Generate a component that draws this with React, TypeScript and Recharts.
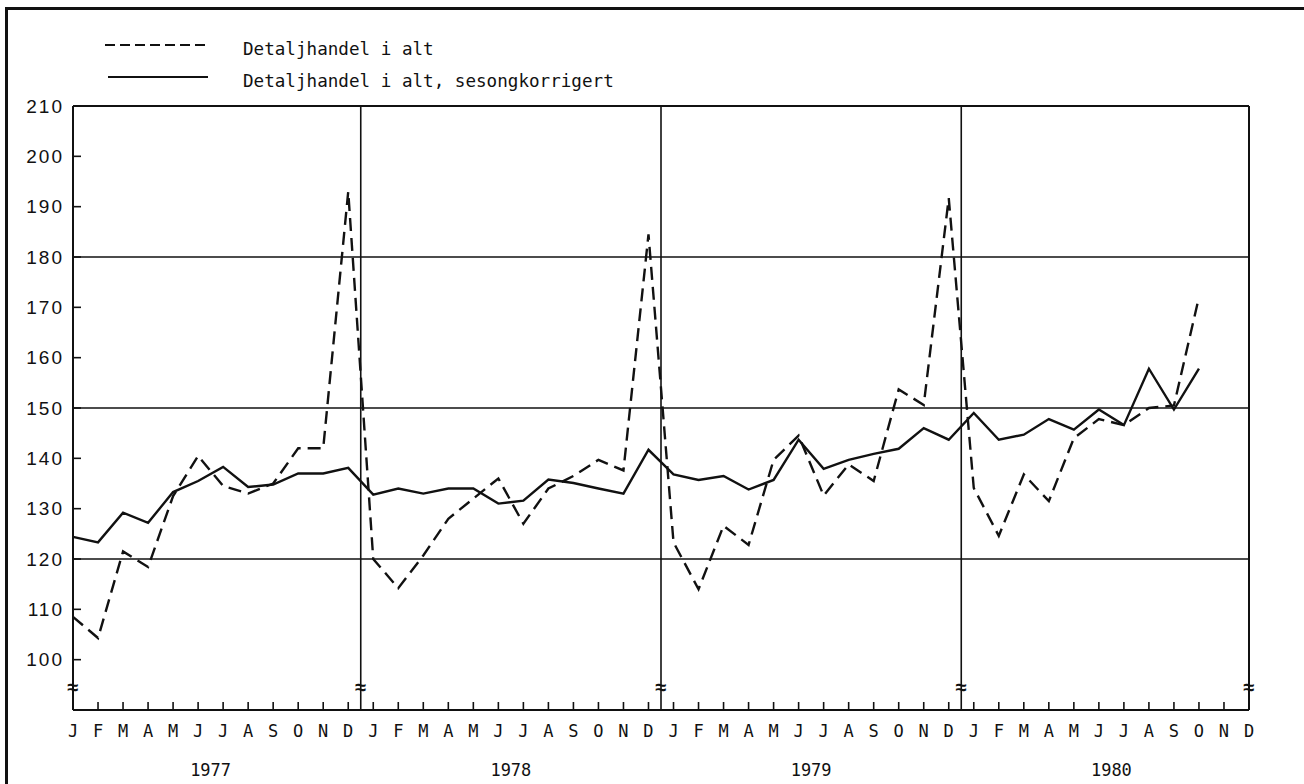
import React from "react";
import { LineChart, Line, XAxis, YAxis, ReferenceLine, ReferenceDot } from "recharts";

const MONTHS = ["J", "F", "M", "A", "M", "J", "J", "A", "S", "O", "N", "D"];
const YEARS = ["1977", "1978", "1979", "1980"];
const Y_TICKS = [100, 110, 120, 130, 140, 150, 160, 170, 180, 190, 200, 210];

// Detaljhandel i alt (dashed)
const TOTAL_1977 = [108.5, 104.3, 121.5, 118.4, 132.5, 140.5, 134.5, 133, 135, 142, 142, 193];
const TOTAL_1978 = [120, 114.2, 120.7, 128, 132, 136, 127, 134, 136.5, 139.7, 137.6, 184.5];
const TOTAL_1979 = [123.3, 114, 126.6, 122.8, 139.7, 144.5, 132.6, 138.8, 135.5, 153.7, 150.6, 191.7];
const TOTAL_1980 = [134.1, 124.6, 136.8, 131.5, 144, 147.8, 146.6, 150, 150.5, 172, null, null];

// Detaljhandel i alt, sesongkorrigert (solid)
const SA_1977 = [124.4, 123.3, 129.2, 127.2, 133.3, 135.5, 138.3, 134.3, 134.8, 137, 137, 138.1];
const SA_1978 = [132.8, 134, 133, 134, 134, 131, 131.6, 135.8, 135.1, 134, 133, 141.7];
const SA_1979 = [136.8, 135.7, 136.5, 133.8, 135.7, 143.7, 137.9, 139.7, 140.9, 141.9, 146, 143.7];
const SA_1980 = [149, 143.7, 144.7, 147.8, 145.7, 149.7, 146.6, 157.8, 149.7, 157.8, null, null];

const TOTAL = [...TOTAL_1977, ...TOTAL_1978, ...TOTAL_1979, ...TOTAL_1980];
const SA = [...SA_1977, ...SA_1978, ...SA_1979, ...SA_1980];

const data = TOTAL.map((t, i) => ({ i, total: t, sa: SA[i] }));
const MONTH_TICKS = data.map((d) => d.i);
const YEAR_TICKS = YEARS.map((_, k) => k * 12 + 5.5);
const YEAR_BREAKS = [11.5, 23.5, 35.5];
const BREAK_MARKS = [0, 11.5, 23.5, 35.5, 47];

const INK = "#111";
const MONO = "'DejaVu Sans Mono', 'Liberation Mono', monospace";
const SANS = "'Liberation Sans', Arial, sans-serif";

const MonthTick = (props: any) => {
  const { x, y, payload } = props;
  const v = payload.value as number;
  return (
    <g>
      <line x1={x} y1={y} x2={x} y2={y - 8} stroke={INK} strokeWidth={1.6} />
      <text x={x} y={y + 21} textAnchor="middle" dominantBaseline="central" fontFamily={MONO} fontSize={17} fill={INK}>
        {MONTHS[v % 12]}
      </text>
    </g>
  );
};

const YearTick = (props: any) => {
  const { x, y, payload } = props;
  const k = Math.floor((payload.value as number) / 12);
  return (
    <text x={x} y={y + 20} textAnchor="middle" dominantBaseline="central" fontFamily={MONO} fontSize={17} fill={INK}>
      {YEARS[k]}
    </text>
  );
};

const LeftTick = (props: any) => {
  const { x, y, payload } = props;
  return (
    <g>
      <line x1={x} y1={y} x2={x + 8} y2={y} stroke={INK} strokeWidth={1.6} />
      <text x={x - 9} y={y} textAnchor="end" dominantBaseline="central" fontFamily={SANS} fontSize={19} style={{ letterSpacing: "2px" }} fill={INK}>
        {payload.value}
      </text>
    </g>
  );
};

const RightTick = (props: any) => {
  const { x, y, payload } = props;
  return (
    <g>
      <line x1={x} y1={y} x2={x - 8} y2={y} stroke={INK} strokeWidth={1.6} />
      <text x={x + 12} y={y - (payload.value === 210 ? 6 : 0)} textAnchor="start" dominantBaseline="central" fontFamily={SANS} fontSize={19} style={{ letterSpacing: "2px" }} fill={INK}>
        {payload.value}
      </text>
    </g>
  );
};

const BreakMark = (props: any) => {
  const { cx, cy } = props;
  return (
    <text x={cx} y={cy} textAnchor="middle" dominantBaseline="central" fontFamily={SANS} fontSize={20} fontWeight={700} fill={INK}>
      ≈
    </text>
  );
};

export default function App() {
  return (
    <div style={{ position: "absolute", left: 0, top: 0, width: 1304, height: 784 }}>
      <div style={{ position: "absolute", left: 0, top: 0 }}>
        <LineChart width={1304} height={784} data={data} margin={{ top: 106, right: 0, bottom: 0, left: 0 }}>
          <XAxis
            xAxisId="m"
            type="number"
            dataKey="i"
            domain={[0, 47]}
            ticks={MONTH_TICKS}
            interval={0}
            height={40}
            tickSize={0}
            tickMargin={0}
            tick={MonthTick}
            axisLine={{ stroke: INK, strokeWidth: 2 }}
          />
          <XAxis
            xAxisId="y"
            type="number"
            dataKey="i"
            domain={[0, 47]}
            ticks={YEAR_TICKS}
            interval={0}
            height={34}
            tickSize={0}
            tickMargin={0}
            tick={YearTick}
            axisLine={false}
            tickLine={false}
          />
          <YAxis
            yAxisId="l"
            orientation="left"
            domain={[90, 210]}
            ticks={Y_TICKS}
            interval={0}
            width={73}
            tickSize={0}
            tickMargin={0}
            tick={LeftTick}
            axisLine={{ stroke: INK, strokeWidth: 2 }}
          />
          <YAxis
            yAxisId="r"
            orientation="right"
            domain={[90, 210]}
            ticks={Y_TICKS}
            interval={0}
            width={55}
            tickSize={0}
            tickMargin={0}
            tick={RightTick}
            axisLine={{ stroke: INK, strokeWidth: 2 }}
          />
          {[120, 150, 180, 210].map((v) => (
            <ReferenceLine key={"h" + v} xAxisId="m" yAxisId="l" y={v} stroke={INK} strokeWidth={v === 210 ? 2 : 1.5} />
          ))}
          {YEAR_BREAKS.map((v) => (
            <ReferenceLine key={"v" + v} xAxisId="m" yAxisId="l" x={v} stroke={INK} strokeWidth={1.6} />
          ))}
          {BREAK_MARKS.map((v) => (
            <ReferenceDot key={"b" + v} xAxisId="m" yAxisId="l" x={v} y={94.5} shape={BreakMark} />
          ))}
          <Line
            xAxisId="m"
            yAxisId="l"
            type="linear"
            dataKey="sa"
            stroke={INK}
            strokeWidth={2.4}
            dot={false}
            isAnimationActive={false}
          />
          <Line
            xAxisId="m"
            yAxisId="l"
            type="linear"
            dataKey="total"
            stroke={INK}
            strokeWidth={2.4}
            strokeDasharray="13 7"
            dot={false}
            isAnimationActive={false}
          />
        </LineChart>
      </div>
      <svg width={1304} height={784} style={{ position: "absolute", left: 0, top: 0, zIndex: 5, pointerEvents: "none" }}>
        <line x1={6.5} y1={7} x2={6.5} y2={784} stroke={INK} strokeWidth={3} />
        <line x1={5} y1={8.5} x2={1304} y2={8.5} stroke={INK} strokeWidth={3} />
        <line x1={105} y1={45} x2={208} y2={45} stroke={INK} strokeWidth={2} strokeDasharray="10 5" />
        <text x={243} y={49} dominantBaseline="central" fontFamily={MONO} fontSize={17.6} fill={INK}>
          Detaljhandel i alt
        </text>
        <line x1={108} y1={77} x2={208} y2={77} stroke={INK} strokeWidth={2} />
        <text x={243} y={81} dominantBaseline="central" fontFamily={MONO} fontSize={17.6} fill={INK}>
          Detaljhandel i alt, sesongkorrigert
        </text>
      </svg>
    </div>
  );
}
